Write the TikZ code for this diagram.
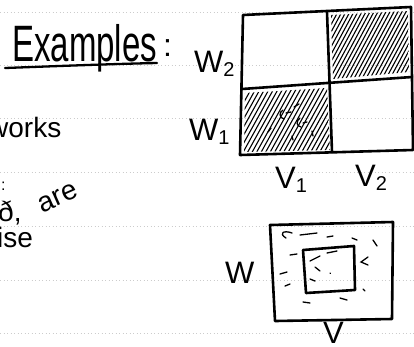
\documentclass[tikz,border=0pt]{standalone}
\usepackage{fontspec}
\setmainfont{Liberation Sans}
\newcommand{\mysub}[1]{\raisebox{-4pt}{\fontsize{20}{20}\selectfont #1}}
\begin{document}
\begin{tikzpicture}[x=1pt,y=-1pt,
  hand/.style={line width=2.6pt,line cap=round,line join=round},
  hatch/.style={line width=1.1pt,line cap=round},
  dashmark/.style={line width=1.3pt,line cap=round},
  rule/.style={gray!40,line width=0.6pt,dash pattern=on 1pt off 2.5pt},
  lbl/.style={inner sep=0pt,anchor=base west,font=\fontsize{31}{33}\selectfont},
  note/.style={inner sep=0pt,anchor=base west,font=\fontsize{28}{30}\selectfont}]
\useasboundingbox (0,0) rectangle (414,346);
\fill[white] (0,0) rectangle (414,346);
% ruled paper lines
\foreach \y in {12,65,118,172,226,280,333} \draw[rule] (0,\y) -- (414,\y);

% heading
\node[inner sep=0pt,anchor=base west,font=\fontsize{33}{35}\selectfont] (ex) at (12,61) {\scalebox{1}[1.55]{Examples}};
\node[inner sep=0pt,anchor=base west,font=\fontsize{32}{34}\selectfont] (colon) at (163,56) {:};
\coordinate (u1) at (5,68);
\coordinate (u2) at (157,63);
\draw[hand,line width=2.3pt] (u1) .. controls (60,66) and (110,64) .. (u2);

% left margin notes (cut off at the left edge)
\node[note] (works) at (-12,137) {works};
\node[note] (dot) at (1,190) {\fontsize{16}{16}\selectfont :};
\node[note] (eth) at (-2,221) {ð,};
\node[note] (are) at (36,213) {\rotatebox{24}{are}};
\node[note] (ise) at (-3,247) {ise};

% 2x2 grid
\coordinate (g1) at (243,15);
\coordinate (g2) at (411,7);
\coordinate (g3) at (413,150);
\coordinate (g4) at (240,155);
\coordinate (m1) at (327,12);
\coordinate (m2) at (332,152);
\coordinate (h1) at (242,89);
\coordinate (h2) at (412,77);
% hatching top-right
\begin{scope}
  \clip (331,15) -- (408,11) -- (409,72) -- (333,79) -- cycle;
  \foreach \i in {0,4,...,125} \draw[hatch] (290+\i,86) -- ++(42,-78);
\end{scope}
% hatching bottom-left
\begin{scope}
  \clip (245,93) -- (327,88) -- (330,150) -- (244,152) -- cycle;
  \foreach \i in {0,4.5,...,130} \draw[hatch] (205+\i,156) -- ++(40,-72);
\end{scope}
\draw[dashmark] (283,110) .. controls (279,112) and (279,118) .. (284,119);
\draw[dashmark] (286,113) -- (291,112);
\draw[dashmark] (294,107) -- (299,104);
\draw[dashmark] (300,118) .. controls (296,121) and (296,126) .. (301,127);
\draw[dashmark] (303,123) -- (307,122);
\draw[dashmark] (268,132) -- (271,128);
\draw[dashmark] (312,131) -- (313,136);
\draw[dashmark] (292,136) -- (293,140);
\draw[hand] (g1) -- (g2) -- (g3) -- (g4) -- cycle;
\draw[hand] (m1) -- (m2);
\draw[hand] (h1) -- (h2);

% grid labels
\node[lbl] (w2) at (194,72) {W\mysub{2}};
\node[lbl] (w1) at (189,140) {W\mysub{1}};
\node[lbl] (v1) at (275,188) {V\mysub{1}};
\node[lbl] (v2) at (355,186) {V\mysub{2}};

% nested squares
\coordinate (o1) at (270,225);
\coordinate (o2) at (393,222);
\coordinate (o3) at (392,319);
\coordinate (o4) at (275,321);
\coordinate (i1) at (303,250);
\coordinate (i2) at (354,246);
\coordinate (i3) at (355,290);
\coordinate (i4) at (306,293);
\draw[hand] (o1) -- (o2) -- (o3) -- (o4) -- cycle;
\draw[hand] (i1) -- (i2) -- (i3) -- (i4) -- cycle;
% texture marks
\draw[dashmark] (292,233) .. controls (284,230) and (278,233) .. (286,238);
\draw[dashmark] (300,235) -- (317,233);
\draw[dashmark] (327,237) -- (333,236);
\draw[dashmark] (352,238) -- (357,240);
\draw[dashmark] (373,240) -- (377,246);
\draw[dashmark] (290,255) -- (297,254);
\draw[dashmark] (280,274) -- (287,272);
\draw[dashmark] (285,286) -- (290,284);
\draw[dashmark] (303,302) -- (310,303);
\draw[dashmark] (340,298) -- (347,300);
\draw[dashmark] (363,289) -- (365,291);
\draw[dashmark] (368,257) -- (361,262) -- (368,265);
\draw[dashmark] (310,261) -- (320,256);
\draw[dashmark] (327,253) -- (337,251);
\draw[dashmark] (315,267) -- (320,271);
\draw[dashmark] (330,273) -- (330.5,273.5);
\draw[dashmark] (310,279) -- (315,281);

% nested labels
\node[lbl] (w) at (225,283) {W};
\node[lbl] (v) at (323,343) {V};
\end{tikzpicture}
\end{document}
